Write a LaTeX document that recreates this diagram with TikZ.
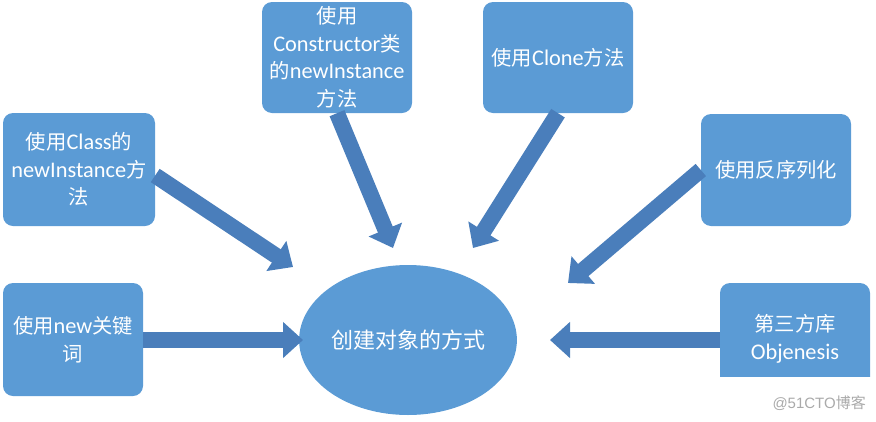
\documentclass[tikz,border=0pt]{standalone}
\usepackage{fontspec}
\setmainfont{Carlito}[Scale=1.1]
\newfontfamily\cjk{Noto Sans CJK SC}
\newfontfamily\wmfont{Liberation Sans}
\newcommand{\zh}[1]{{\cjk #1}}
\usetikzlibrary{arrows.meta,shapes.geometric}
\definecolor{boxblue}{HTML}{5B9BD5}
\definecolor{arrowblue}{HTML}{4A7EBB}
\definecolor{wmgray}{HTML}{AAAAAA}
\begin{document}
\begin{tikzpicture}[x=1pt,y=-1pt,
  box/.style={fill=boxblue, rounded corners=10pt, text=white, align=center,
    font=\fontsize{20.3}{27.5}\selectfont, inner sep=0pt},
  bigarrow/.style={line width=16pt, draw=arrowblue,
    -{Triangle[width=35pt,length=20pt,fill=arrowblue]}}]
\useasboundingbox (0,0) rectangle (876,421);
% boxes
\node[box, minimum width=152pt, minimum height=113pt] (cls) at (79,169.5)
  {\zh{使用}Class\zh{的}\\newInstance\zh{方}\\\zh{法}};
\node[box, minimum width=150pt, minimum height=111pt] (ctor) at (337,57.5)
  {\zh{使用}\\Constructor\zh{类}\\\zh{的}newInstance\\\zh{方法}};
\node[box, minimum width=150pt, minimum height=111pt] (clone) at (558,57.5)
  {\zh{使用}Clone\zh{方法}};
\node[box, minimum width=150pt, minimum height=112pt] (deser) at (776,170)
  {\zh{使用反序列化}};
\node[box, minimum width=150pt, minimum height=112pt] (obj) at (795,339)
  {\zh{第三方库}\\Objenesis};
\node[box, minimum width=140pt, minimum height=113pt] (newkw) at (73,339.5)
  {\zh{使用}new\zh{关键}\\\zh{词}};
\node[ellipse, fill=boxblue, text=white, minimum width=210pt, minimum height=150pt,
  inner sep=0pt, font=\fontsize{22}{26}\selectfont] (center) at (408,340)
  {\zh{创建对象的方式}};
% arrow tips
\coordinate (tcls) at (293,267);
\coordinate (tctor) at (393,248);
\coordinate (tclone) at (473,248);
\coordinate (tdeser) at (568,283);
\coordinate (tobj) at (550,340);
\coordinate (tnew) at (303,340);
% arrows
\draw[bigarrow] ([yshift=-6pt]cls.east) -- (tcls);
\draw[bigarrow] (ctor.south) -- (tctor);
\draw[bigarrow] (clone.south) -- (tclone);
\draw[bigarrow] (deser.west) -- (tdeser);
\draw[bigarrow] (obj.west |- tobj) -- (tobj);
\draw[bigarrow] (newkw.east |- tnew) -- (tnew);
% watermark band
\fill[white] (716,377) rectangle (876,421);
\node[text=wmgray, font=\fontsize{15}{18}\selectfont, anchor=east, inner sep=0pt] (wm) at (866,403)
  {\wmfont @51CTO\zh{博客}};
\end{tikzpicture}
\end{document}
